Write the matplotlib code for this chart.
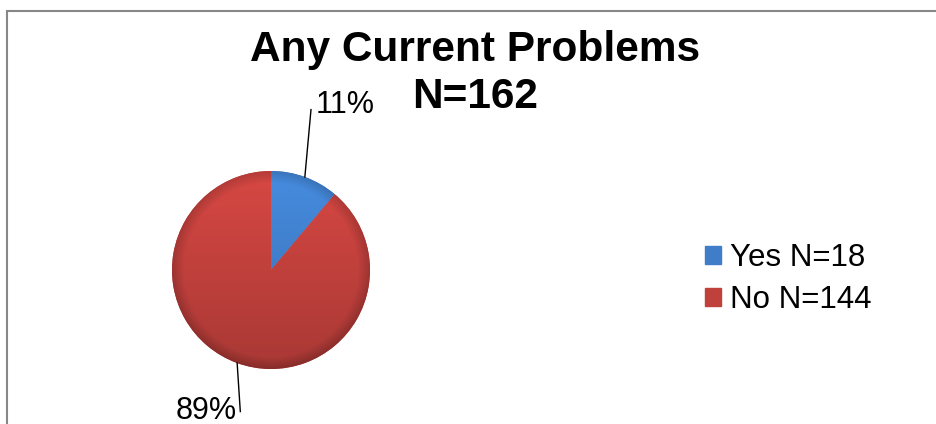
import numpy as np
import matplotlib
matplotlib.use("Agg")
import matplotlib.pyplot as plt
from matplotlib.patches import Rectangle, Patch
from matplotlib.colors import to_rgb

plt.rcParams['font.family'] = ['Liberation Sans', 'DejaVu Sans']

# Data
categories = ["Yes", "No"]
counts = [18, 144]
total_n = 162
colors = ["#3f7dc8", "#c0403c"]

W, H, DPI = 936, 424, 100
fig = plt.figure(figsize=(W / DPI, H / DPI), dpi=DPI)
fig.patch.set_facecolor("white")

# Outer chart border (runs past the right and bottom edges)
border = Rectangle((7.5 / W, -0.2), 1.2, (H - 10.5) / H + 0.2,
                   transform=fig.transFigure, fill=False,
                   edgecolor="#878787", linewidth=1.5, zorder=0)
fig.patches.append(border)

# Pie axes: radius 1 in data units -> 99 px
R_PX = 99
cx, cy = 271, H - 270
span = 2.2
ax = fig.add_axes([(cx - span * R_PX) / W, (cy - span * R_PX) / H,
                   2 * span * R_PX / W, 2 * span * R_PX / H])

wedges, _ = ax.pie(counts, colors=colors, startangle=90, counterclock=False,
                   radius=1.0, center=(0, 0), frame=True,
                   wedgeprops=dict(linewidth=0))
ax.set_xlim(-span, span)
ax.set_ylim(-span, span)
ax.set_aspect("equal")
ax.axis("off")

# Shaded fill for each wedge: lighter on top, darker below, darker rim
n = 300
xs = np.linspace(-1, 1, n)
X, Y = np.meshgrid(xs, xs)
Rr = np.sqrt(X ** 2 + Y ** 2)
for w, c in zip(wedges, colors):
    base = np.array(to_rgb(c))
    shade = 1.0 + 0.12 * Y - 0.18 * np.clip((Rr - 0.88) / 0.12, 0, 1)
    img = np.clip(base[None, None, :] * shade[..., None], 0, 1)
    im = ax.imshow(img, extent=(-1, 1, -1, 1), origin="lower",
                   interpolation="bilinear", zorder=w.get_zorder() + 0.1)
    im.set_clip_path(w)

# Percentage labels with leader lines
pcts = [100 * v / total_n for v in counts]
label_offsets = [((0.404, 1.62), (0.45, 1.67), "left"),
                 ((-0.31, -1.43), (-0.35, -1.42), "right")]
for w, p, (end, txt, ha) in zip(wedges, pcts, label_offsets):
    mid = np.deg2rad((w.theta1 + w.theta2) / 2)
    sx, sy = np.cos(mid), np.sin(mid)
    ax.plot([sx, end[0]], [sy, end[1]], color="black", lw=1.0,
            zorder=10, clip_on=False)
    ax.text(txt[0], txt[1], f"{p:.0f}%", ha=ha, va="center",
            fontsize=22, color="black", clip_on=False)

# Title (two centred lines)
fig.text(475 / W, (H - 61) / H, "Any Current Problems",
         ha="center", va="baseline", fontsize=30.5, fontweight="bold")
fig.text(475 / W, (H - 108) / H, f"N={total_n}",
         ha="center", va="baseline", fontsize=30.5, fontweight="bold")

# Legend
handles = [Patch(facecolor=c, edgecolor=c) for c in colors]
labels = [f"{cat} N={v}" for cat, v in zip(categories, counts)]
fig.legend(handles, labels, loc="center left",
           bbox_to_anchor=(705 / W, (H - 279) / H), frameon=False,
           fontsize=22.5, handlelength=0.5, handleheight=0.5,
           handletextpad=0.3, labelspacing=0.4, borderaxespad=0,
           borderpad=0)

fig.savefig("out.png", dpi=DPI)
